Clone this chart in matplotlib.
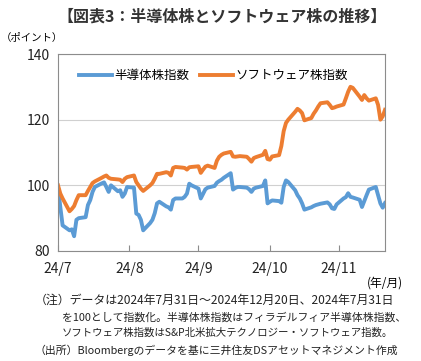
import matplotlib
matplotlib.use("Agg")
import matplotlib.pyplot as plt
import pandas as pd

plt.rcParams['font.family'] = ['Noto Sans CJK JP', 'DejaVu Sans']

# trading days 2024/7/31 - 2024/12/20 (holidays carry the previous value)
dates = pd.bdate_range("2024-07-31", "2024-12-20")

semi = [99.5,
        93.4, 87.8, 86.3, 86.6, 84.5, 89.5, 90, 90.3, 94, 95.5, 98, 99.5, 100.6, 100.9, 99.5,
        98, 100, 98.2, 98.5, 96.5, 97.5, 99.5,
        99.3, 91.4, 91, 89.5, 86.3, 88.5, 89.5, 91.5, 94.5, 95, 93.6, 93.3, 92.6, 95.5, 96,
        96, 96.5, 97.5, 100.5, 100, 99,
        96, 97.4, 98.8, 99.3, 99.8, 100.8, 101.3, 101.7, 102.3, 103.7, 98.7, 99.2, 99.5, 99.5,
        99.3, 98.8, 98, 99, 99.3, 99.8, 101.5, 94.5, 95,
        95.4, 95.2, 94.7, 99.5, 101.5, 101, 98.5, 97, 96, 94.5, 92.6, 93.3, 93.7, 94, 94.2,
        94.4, 94.8, 94.2, 93, 92.8, 94.2,
        96, 96.4, 97.6, 96.5, 96.3, 95.6, 93.4, 95.2, 97, 98.7, 99.5, 97, 94.5, 93.2, 94.6]

soft = [100,
        97.5, 96, 92.1, 92.8, 93.7, 95.5, 97, 97, 98.3, 99.5, 100.7, 101.2, 102.3, 102.7, 103,
        102.3, 102, 101.8, 101.7, 101, 102, 102.5,
        103, 101, 100, 99, 98.3, 100, 100.7, 102, 103.5, 103.5, 104, 103.8, 103, 105.3, 105.6,
        105.4, 105.3, 104.8, 105.5, 105.6, 105.8,
        103.8, 104.8, 105.7, 106, 105.3, 107.5, 108.7, 109.3, 109.7, 110.2, 108.8, 108.7, 108.8,
        108.9, 108.7, 108, 107.2, 108.3, 108.6, 109.3, 110.5, 108, 107.8,
        108.8, 109.2, 112, 116.5, 119, 120, 122.4, 123.3, 122.8, 122, 119.8, 120.5, 121.8,
        122.8, 124, 125, 125.3, 124.5, 123.5, 123.7, 124,
        124.6, 126.5, 128.5, 130, 129.7, 127, 126, 127.5, 126.5, 125.8, 126.5, 124.5, 120, 121, 123]

tick_dates = pd.to_datetime(["2024-07-31", "2024-08-31", "2024-09-30", "2024-10-31", "2024-11-30"])
tick_labels = ["24/7", "24/8", "24/9", "24/10", "24/11"]

title = "【図表3：半導体株とソフトウェア株の推移】"
notes = ["（注）データは2024年7月31日～2024年12月20日、2024年7月31日",
         "を100として指数化。半導体株指数はフィラデルフィア半導体株指数、",
         "ソフトウェア株指数はS&P北米拡大テクノロジー・ソフトウェア指数。",
         "（出所）Bloombergのデータを基に三井住友DSアセットマネジメント作成"]

fig = plt.figure(figsize=(4.21, 3.61), dpi=100)
ax = fig.add_axes([58 / 421, 1 - 251 / 361, 327 / 421, 197 / 361])

ax.plot(dates, semi, color="#5B9BD5", lw=2.8, label="半導体株指数", solid_joinstyle="round")
ax.plot(dates, soft, color="#ED7D31", lw=2.8, label="ソフトウェア株指数", solid_joinstyle="round")

ax.set_ylim(80, 140)
ax.set_yticks([80, 100, 120, 140])
ax.set_xlim(dates[0], dates[-1])
ax.set_xticks(tick_dates)
ax.set_xticklabels(tick_labels)
ax.grid(axis="y", color="#d0d0d0", lw=0.8)
ax.set_axisbelow(True)
for s in ax.spines.values():
    s.set_color("#8c8c8c")
ax.tick_params(axis="y", length=0, labelsize=10, pad=6, colors="#222222")
ax.tick_params(axis="x", direction="in", length=4, color="#8c8c8c", labelsize=10, pad=8,
               labelcolor="#222222")

ax.legend(loc="upper left", bbox_to_anchor=(0.03, 0.98), ncol=2, frameon=False,
          fontsize=9, handlelength=2.6, handletextpad=0.2, columnspacing=0.9)

fig.text(222 / 421, 1 - 17 / 361, title, ha="center", va="center", fontsize=11.5,
         fontweight="bold", color="#333333")
fig.text(32 / 421, 1 - 38 / 361, "（ポイント）", ha="center", va="center", fontsize=7.5)
fig.text(385 / 421, 1 - 283 / 361, "(年/月)", ha="center", va="center", fontsize=8.5)

ys = [300, 317, 333, 350]
xs = [35, 62, 62, 35]
sizes = [8.6, 7.8, 7.5, 7.8]
for t, x, y, fs in zip(notes, xs, ys, sizes):
    fig.text(x / 421, 1 - y / 361, t, ha="left", va="center", fontsize=fs, color="#222222")

fig.savefig("out.png", dpi=100)
